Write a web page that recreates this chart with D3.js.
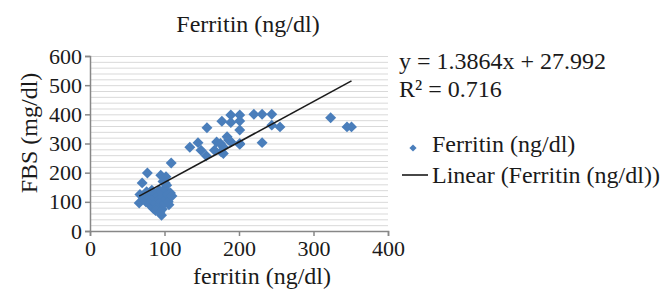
<!DOCTYPE html>
<html>
<head>
<meta charset="utf-8">
<script src="https://cdn.jsdelivr.net/npm/d3@7"></script>
<style>
  body { margin: 0; background: #fff; }
  text { font-family: "Liberation Serif", "Times New Roman", serif; fill: #1a1a1a; }
</style>
</head>
<body>
<script>
// ferritin (ng/dl) vs FBS (mg/dl)
var ferritin = [323, 345, 351, 189, 201, 220, 231, 244, 177, 189, 201, 201, 201, 157, 244, 255, 231,
  134, 145, 149, 156, 167, 170, 175, 179, 179, 176, 184, 189, 186, 201, 109,
  77, 70, 66, 67, 95, 102, 103, 107, 106, 96, 85,
  72, 75, 78, 80, 82, 84, 86, 88, 90, 90, 92, 93, 95, 97, 98, 100, 100, 102, 104, 105, 108, 110, 88, 94, 83, 76, 98, 101];
var fbs = [388, 357, 357, 398, 398, 400, 400, 400, 376, 372, 377, 346, 297, 354, 363, 357, 303,
  287, 303, 277, 258, 277, 305, 300, 288, 266, 272, 323, 306, 312, 300, 233,
  199, 165, 96, 125, 191, 186, 157, 128, 90, 54, 77,
  110, 100, 120, 90, 105, 130, 115, 95, 82, 125, 108, 140, 100, 75, 118, 95, 145, 110, 125, 100, 130, 120, 70, 65, 140, 135, 170, 165];
var xTicks = [0, 100, 200, 300, 400];
var yTicks = [0, 100, 200, 300, 400, 500, 600];
var slope = 1.3864, intercept = 27.992;
var legendLabels = ["Ferritin (ng/dl)", "Linear (Ferritin (ng/dl))"];

var main = function() {
  var width = 661, height = 290;
  var plot = {left: 90, right: 388, top: 56, bottom: 231};
  var blue = "#4a7ebb";

  var svg = d3.select("body").append("svg")
    .attr("width", width)
    .attr("height", height);

  var x = d3.scaleLinear().domain([0, 400]).range([plot.left, plot.right]);
  var y = d3.scaleLinear().domain([0, 600]).range([plot.bottom, plot.top]);

  // horizontal gridlines every 20
  svg.append("g").selectAll("line")
    .data(d3.range(20, 601, 20))
    .enter().append("line")
    .attr("x1", plot.left).attr("x2", plot.right)
    .attr("y1", function(d) { return y(d) + 0.5; })
    .attr("y2", function(d) { return y(d) + 0.5; })
    .attr("stroke", "#d9d9d9")
    .attr("stroke-width", 1);

  var xAxis = svg.append("g")
    .attr("transform", "translate(0," + plot.bottom + ")")
    .call(d3.axisBottom(x).tickValues(xTicks).tickSize(5).tickPadding(4));
  var yAxis = svg.append("g")
    .attr("transform", "translate(" + plot.left + ",0)")
    .call(d3.axisLeft(y).tickValues(yTicks).tickSize(5).tickPadding(3));

  [xAxis, yAxis].forEach(function(a) {
    a.attr("font-family", null).attr("font-size", null);
    a.select(".domain").attr("stroke", "#878787").attr("stroke-width", 1.5);
    a.selectAll(".tick line").attr("stroke", "#878787").attr("stroke-width", 1.5);
    a.selectAll(".tick text")
      .attr("font-family", "Liberation Serif")
      .attr("font-size", 22)
      .attr("fill", "#1a1a1a");
  });

  // points
  var diamond = d3.symbol().type(d3.symbolSquare).size(60);
  svg.append("g").selectAll("path")
    .data(ferritin.map(function(d, i) { return [d, fbs[i]]; }))
    .enter().append("path")
    .attr("d", diamond)
    .attr("transform", function(d) { return "translate(" + x(d[0]) + "," + y(d[1]) + ") rotate(45)"; })
    .attr("fill", blue);

  // linear trendline
  var x0 = d3.min(ferritin), x1 = d3.max(ferritin);
  svg.append("line")
    .attr("x1", x(x0)).attr("y1", y(slope * x0 + intercept))
    .attr("x2", x(x1)).attr("y2", y(slope * x1 + intercept))
    .attr("stroke", "#1a1a1a")
    .attr("stroke-width", 1.6);

  // titles
  svg.append("text")
    .attr("x", 248).attr("y", 32)
    .attr("text-anchor", "middle")
    .style("font-size", "24px")
    .text("Ferritin (ng/dl)");
  svg.append("text")
    .attr("x", 262).attr("y", 284)
    .attr("text-anchor", "middle")
    .style("font-size", "24px")
    .text("ferritin (ng/dl)");
  svg.append("text")
    .attr("transform", "translate(37,133) rotate(-90)")
    .attr("text-anchor", "middle")
    .style("font-size", "24px")
    .text("FBS (mg/dl)");

  // equation
  svg.append("text")
    .attr("x", 399).attr("y", 69)
    .style("font-size", "24px")
    .text("y = " + slope + "x + " + intercept);
  svg.append("text")
    .attr("x", 399).attr("y", 97)
    .style("font-size", "24px")
    .text("R² = 0.716");

  // legend
  svg.append("path")
    .attr("d", d3.symbol().type(d3.symbolSquare).size(26))
    .attr("transform", "translate(413,148) rotate(45)")
    .attr("fill", blue);
  svg.append("line")
    .attr("x1", 402).attr("x2", 428)
    .attr("y1", 175).attr("y2", 175)
    .attr("stroke", "#1a1a1a")
    .attr("stroke-width", 1.6);
  svg.selectAll(".legend-label")
    .data(legendLabels)
    .enter().append("text")
    .attr("class", "legend-label")
    .attr("x", 432)
    .attr("y", function(d, i) { return 152 + i * 31; })
    .style("font-size", "24px")
    .text(function(d) { return d; });
}

main();
</script>
</body>
</html>
